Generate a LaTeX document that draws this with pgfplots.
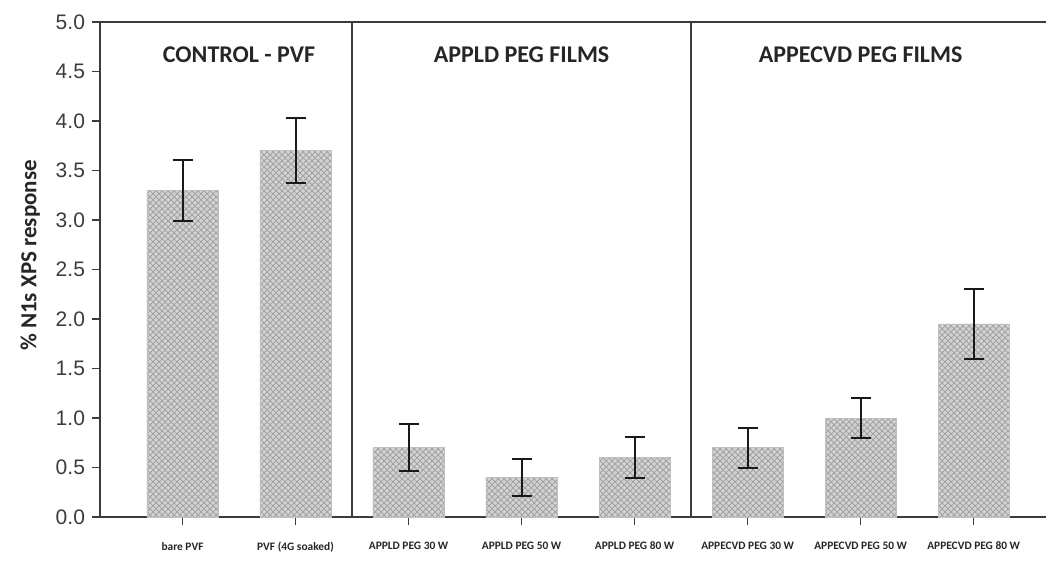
\documentclass[border=0pt]{standalone}
\usepackage{pgfplots}
\pgfplotsset{compat=1.18}
\usetikzlibrary{patterns}
\usepackage{fontspec}
\setmainfont{Carlito}
\newfontfamily\arial{Liberation Sans}
\definecolor{axgray}{RGB}{60,60,60}
\begin{document}
\begin{tikzpicture}[x=1pt,y=1pt]
\begin{axis}[
  name=ax,
  scale only axis,
  width=473pt, height=247.5pt,
  xmin=-0.73, xmax=7.64,
  ymin=0, ymax=5,
  axis lines*=left,
  axis line style={axgray, line width=0.9pt},
  tick align=outside,
  major tick length=4pt,
  tick style={axgray, line width=0.8pt},
  xtick={0,1,2,3,4,5,6,7},
  xticklabels={bare PVF, PVF (4G soaked), APPLD PEG 30 W, APPLD PEG 50 W, APPLD PEG 80 W, APPECVD PEG 30 W, APPECVD PEG 50 W, APPECVD PEG 80 W},
  xticklabel style={font=\fontsize{5.7}{6}\selectfont\bfseries, text=black!85, yshift=-5pt},
  ytick={0,0.5,...,5},
  yticklabel style={font=\arial\fontsize{10.5}{12}\selectfont, text=axgray},
  /pgf/number format/assume math mode=true,
  /pgf/number format/.cd, fixed, fixed zerofill, precision=1, /pgfplots/.cd,
  ylabel={\bfseries\% N1s XPS response},
  ylabel style={font=\fontsize{11.5}{13}\selectfont, text=black!85, yshift=1pt, xshift=7pt},
  clip=false,
]
\addplot[ybar, bar width=0.63, draw=gray!50, fill=black!17,
  postaction={pattern=crosshatch, pattern color=black!36},
  error bars/.cd, y dir=both, y explicit,
  error bar style={black!90, line width=1pt},
  error mark options={black!90, line width=1pt, mark size=5pt, rotate=90}]
coordinates {
(0,3.30) +- (0,0.31)
(1,3.70) +- (0,0.33)
(2,0.70) +- (0,0.24)
(3,0.40) +- (0,0.19)
(4,0.60) +- (0,0.21)
(5,0.70) +- (0,0.20)
(6,1.00) +- (0,0.20)
(7,1.95) +- (0,0.35)
};
\draw[axgray, line width=0.9pt] (rel axis cs:0,1) -- (rel axis cs:1,1);
\draw[axgray, line width=0.8pt] (axis cs:1.5,0) -- (axis cs:1.5,5);
\draw[axgray, line width=0.8pt] (axis cs:4.5,0) -- (axis cs:4.5,5);
\node[font=\fontsize{12}{14}\selectfont\bfseries, text=black!85] at (axis cs:0.5,4.67) {CONTROL - PVF};
\node[font=\fontsize{12}{14}\selectfont\bfseries, text=black!85] at (axis cs:3,4.67) {APPLD PEG FILMS};
\node[font=\fontsize{12}{14}\selectfont\bfseries, text=black!85] at (axis cs:6,4.67) {APPECVD PEG FILMS};
\end{axis}
\pgfresetboundingbox
\path ([shift={(-50pt,-23pt)}]ax.south west) rectangle ([shift={(0pt,11pt)}]ax.north east);
\end{tikzpicture}
\end{document}
